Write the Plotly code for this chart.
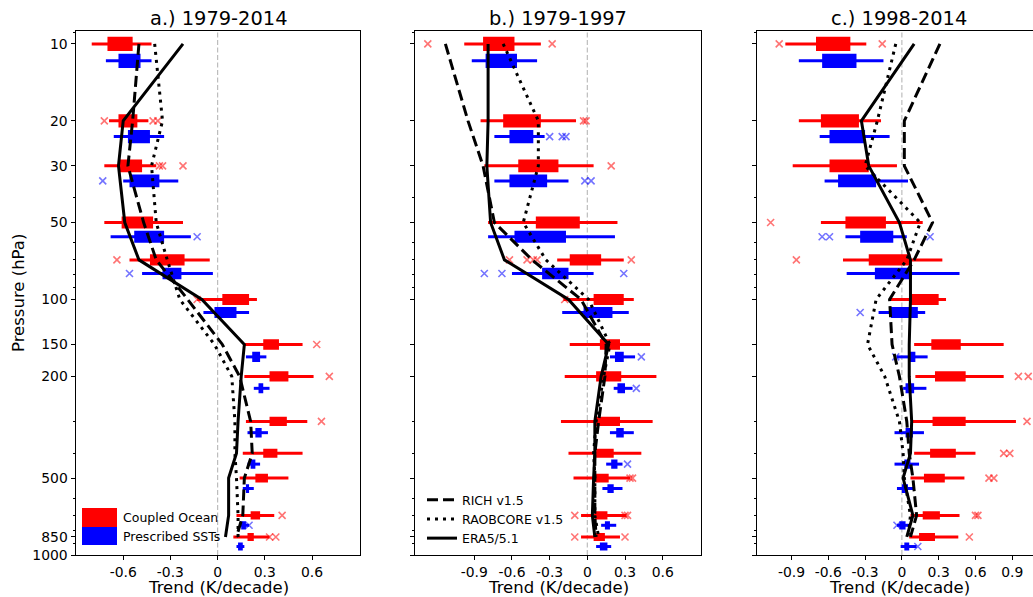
import numpy as np
import plotly.graph_objects as go

# ---------------- data ----------------
levels = [10, 20, 30, 50, 70, 100, 150, 200, 300, 400, 500, 700, 850]
panel_titles = ["a.) 1979-2014", "b.) 1979-1997", "c.) 1998-2014"]
series_names = ["Coupled Ocean", "Prescribed SSTs"]
obs_names = ["RICH v1.5", "RAOBCORE v1.5", "ERA5/5.1"]
y_tickvals = [10, 20, 30, 50, 100, 150, 200, 500, 850, 1000]
y_minor_ticks = [9, 40, 60, 70, 80, 90, 300, 400, 600, 700, 800, 900]

# Panel a: 1979-2014
a_red_lo = [-0.80, -0.69, -0.72, -0.72, -0.56, -0.13, 0.17, 0.17, 0.18, 0.16, 0.14, 0.12, 0.10]
a_red_q1 = [-0.70, -0.63, -0.63, -0.61, -0.43, 0.03, 0.29, 0.33, 0.33, 0.29, 0.24, 0.21, 0.19]
a_red_q3 = [-0.54, -0.51, -0.48, -0.41, -0.21, 0.20, 0.39, 0.45, 0.44, 0.38, 0.32, 0.27, 0.23]
a_red_hi = [-0.42, -0.44, -0.39, -0.22, -0.05, 0.25, 0.54, 0.61, 0.57, 0.54, 0.45, 0.36, 0.33]
a_red_out_p = [20, 20, 20, 30, 30, 30, 70, 100, 150, 200, 300, 700, 850, 850]
a_red_out_x = [-0.72, -0.41, -0.38, -0.37, -0.35, -0.22, -0.64, -0.13, 0.63, 0.71, 0.66, 0.41, 0.33, 0.37]
a_blue_lo = [-0.71, -0.66, -0.60, -0.68, -0.48, -0.09, 0.18, 0.23, 0.19, 0.19, 0.16, 0.14, 0.12]
a_blue_q1 = [-0.63, -0.57, -0.56, -0.53, -0.35, -0.02, 0.22, 0.26, 0.24, 0.21, 0.18, 0.15, 0.13]
a_blue_q3 = [-0.49, -0.43, -0.37, -0.34, -0.23, 0.12, 0.27, 0.29, 0.28, 0.24, 0.20, 0.18, 0.16]
a_blue_hi = [-0.42, -0.34, -0.25, -0.17, -0.03, 0.20, 0.31, 0.33, 0.32, 0.27, 0.23, 0.20, 0.17]
a_blue_out_p = [30, 50, 70, 700]
a_blue_out_x = [-0.73, -0.13, -0.56, 0.20]
a_rich = [-0.50, -0.54, -0.57, -0.47, -0.39, -0.19, 0.03, 0.14, 0.21, 0.22, 0.17, 0.16, 0.12]
a_raob = [-0.40, -0.35, -0.42, -0.39, -0.32, -0.24, -0.02, 0.09, 0.11, 0.11, 0.12, 0.13, 0.13]
a_era5 = [-0.22, -0.60, -0.63, -0.59, -0.50, -0.10, 0.17, 0.15, 0.13, 0.12, 0.07, 0.07, 0.05]

# Panel b: 1979-1997
b_red_lo = [-0.98, -0.85, -0.82, -0.79, -0.24, -0.19, -0.14, -0.18, -0.21, -0.15, -0.11, -0.05, -0.05]
b_red_q1 = [-0.83, -0.67, -0.55, -0.41, -0.14, 0.05, 0.10, 0.07, 0.06, 0.07, 0.06, 0.06, 0.05]
b_red_q3 = [-0.58, -0.37, -0.23, -0.06, 0.11, 0.29, 0.26, 0.27, 0.26, 0.21, 0.17, 0.16, 0.14]
b_red_hi = [-0.37, -0.09, 0.05, 0.24, 0.29, 0.37, 0.50, 0.55, 0.52, 0.43, 0.34, 0.31, 0.26]
b_red_out_p = [10, 10, 20, 20, 30, 70, 70, 70, 70, 70, 100, 500, 500, 700, 700, 700, 850, 850]
b_red_out_x = [-1.27, -0.28, -0.03, -0.01, 0.19, -0.62, -0.48, -0.43, -0.40, 0.35, -0.18, 0.34, 0.36, -0.10, 0.30, 0.32, -0.10, 0.30]
b_blue_lo = [-0.92, -0.74, -0.74, -0.79, -0.60, -0.20, 0.18, 0.21, 0.18, 0.15, 0.12, 0.11, 0.07]
b_blue_q1 = [-0.81, -0.62, -0.62, -0.58, -0.36, -0.03, 0.22, 0.24, 0.23, 0.19, 0.16, 0.14, 0.10]
b_blue_q3 = [-0.56, -0.43, -0.32, -0.17, -0.15, 0.20, 0.29, 0.30, 0.29, 0.24, 0.21, 0.18, 0.16]
b_blue_hi = [-0.40, -0.34, -0.15, 0.22, 0.05, 0.33, 0.38, 0.36, 0.37, 0.28, 0.28, 0.23, 0.19]
b_blue_out_p = [20, 20, 20, 30, 30, 70, 70, 70, 150, 200, 400]
b_blue_out_x = [-0.30, -0.20, -0.17, -0.02, 0.03, -0.82, -0.68, 0.29, 0.43, 0.39, 0.32]
b_rich = [-1.13, -0.95, -0.83, -0.74, -0.44, -0.05, 0.15, 0.14, 0.09, 0.06, 0.06, 0.06, 0.07]
b_raob = [-0.67, -0.39, -0.39, -0.51, -0.33, 0.01, 0.18, 0.13, 0.07, 0.05, 0.06, 0.06, 0.09]
b_era5 = [-0.79, -0.79, -0.80, -0.77, -0.66, -0.15, 0.17, 0.11, 0.06, 0.06, 0.05, 0.04, 0.06]

# Panel c: 1998-2014
c_red_lo = [-0.95, -0.84, -0.89, -0.66, -0.48, -0.09, 0.10, 0.11, 0.09, 0.10, 0.07, 0.07, 0.06]
c_red_q1 = [-0.70, -0.66, -0.59, -0.46, -0.27, 0.06, 0.24, 0.27, 0.25, 0.23, 0.18, 0.17, 0.14]
c_red_q3 = [-0.42, -0.35, -0.27, -0.13, 0.07, 0.30, 0.48, 0.52, 0.52, 0.44, 0.35, 0.31, 0.27]
c_red_hi = [-0.29, -0.17, -0.04, 0.17, 0.33, 0.36, 0.83, 0.83, 0.93, 0.60, 0.51, 0.47, 0.46]
c_red_out_p = [10, 10, 50, 70, 200, 200, 300, 400, 400, 500, 500, 700, 700, 850]
c_red_out_x = [-1.00, -0.16, -1.07, -0.86, 0.95, 1.03, 1.02, 0.83, 0.88, 0.71, 0.75, 0.60, 0.62, 0.55]
c_blue_lo = [-0.84, -0.67, -0.63, -0.46, -0.45, -0.19, -0.04, 0.01, -0.06, -0.06, -0.04, -0.04, -0.01]
c_blue_q1 = [-0.65, -0.59, -0.52, -0.34, -0.22, -0.09, 0.05, 0.03, 0.03, 0.02, 0.00, -0.02, 0.02]
c_blue_q3 = [-0.37, -0.30, -0.21, -0.07, 0.08, 0.13, 0.11, 0.10, 0.09, 0.07, 0.05, 0.03, 0.06]
c_blue_hi = [-0.15, -0.10, 0.05, 0.04, 0.47, 0.19, 0.21, 0.20, 0.18, 0.14, 0.10, 0.07, 0.12]
c_blue_out_p = [50, 50, 50, 100, 150, 700, 850]
c_blue_out_x = [-0.65, -0.59, 0.23, -0.34, -0.05, -0.04, 0.13]
c_rich = [0.31, 0.02, 0.02, 0.25, 0.10, -0.10, -0.08, -0.02, 0.04, 0.06, 0.09, 0.12, 0.07]
c_raob = [-0.05, -0.20, -0.30, 0.15, 0.04, -0.21, -0.28, -0.14, -0.02, 0.01, 0.02, 0.07, 0.05]
c_era5 = [0.10, -0.33, -0.27, -0.02, 0.07, 0.07, 0.06, 0.06, 0.08, 0.07, 0.01, 0.09, 0.04]

# ---------------- layout constants ----------------
W, H = 1033, 597
FONT = "DejaVu Sans"
RED, BLUE = "#ff0000", "#0000ff"
px_x = [(76, 360), (415, 701), (757, 1033)]
px_center = [218, 558, 899]
x_ranges = [[-0.90, 0.905], [-1.372, 0.905], [-1.181, 1.069]]
x_ticks = [[-0.6, -0.3, 0, 0.3, 0.6],
           [-0.9, -0.6, -0.3, 0, 0.3, 0.6],
           [-0.9, -0.6, -0.3, 0, 0.3, 0.6, 0.9]]
PLOT_TOP, PLOT_BOT = 31, 555


def fx(px):
    return px / W


def fy(py):
    return 1 - py / H


def level_offset(p):
    # vertical spacing (in decades of pressure) between the two model groups
    lp = np.log10(p)
    return 0.066 - 0.0148 * (lp - 1)


def centre(p, shifted):
    return np.log10(p) + (level_offset(p) if shifted else 0.0)


def whisker_xy(lo, hi, shifted):
    xs, ys = [], []
    for p, a, b in zip(levels, lo, hi):
        c = 10 ** centre(p, shifted)
        xs += [a, b, None]
        ys += [c, c, None]
    return xs, ys


def box_xy(q1, q3, shifted):
    xs, ys = [], []
    for p, a, b in zip(levels, q1, q3):
        c = centre(p, shifted)
        h = 0.42 * level_offset(p)
        y0, y1 = 10 ** (c - h), 10 ** (c + h)
        xs += [a, b, b, a, a, None]
        ys += [y0, y0, y1, y1, y0, None]
    return xs, ys


def out_y(ps, shifted):
    return [10 ** centre(p, shifted) for p in ps]


panels = [
    dict(red=(a_red_lo, a_red_q1, a_red_q3, a_red_hi, a_red_out_p, a_red_out_x),
         blue=(a_blue_lo, a_blue_q1, a_blue_q3, a_blue_hi, a_blue_out_p, a_blue_out_x),
         obs=(a_rich, a_raob, a_era5)),
    dict(red=(b_red_lo, b_red_q1, b_red_q3, b_red_hi, b_red_out_p, b_red_out_x),
         blue=(b_blue_lo, b_blue_q1, b_blue_q3, b_blue_hi, b_blue_out_p, b_blue_out_x),
         obs=(b_rich, b_raob, b_era5)),
    dict(red=(c_red_lo, c_red_q1, c_red_q3, c_red_hi, c_red_out_p, c_red_out_x),
         blue=(c_blue_lo, c_blue_q1, c_blue_q3, c_blue_hi, c_blue_out_p, c_blue_out_x),
         obs=(c_rich, c_raob, c_era5)),
]

fig = go.Figure()
obs_dash = ["11px,5px", "3px,5px", "solid"]

for i, pan in enumerate(panels):
    xa = "x" if i == 0 else f"x{i+1}"
    ya = "y" if i == 0 else f"y{i+1}"
    for key, col, shifted, name, acol in [("red", RED, False, series_names[0], "rgba(255,0,0,0.55)"),
                                          ("blue", BLUE, True, series_names[1], "rgba(0,0,255,0.55)")]:
        lo, q1, q3, hi, op, ox = pan[key]
        wx, wy = whisker_xy(lo, hi, shifted)
        fig.add_trace(go.Scatter(x=wx, y=wy, mode="lines", line=dict(color=col, width=3),
                                 xaxis=xa, yaxis=ya, showlegend=False, name=name, hoverinfo="skip"))
        bx, by = box_xy(q1, q3, shifted)
        fig.add_trace(go.Scatter(x=bx, y=by, mode="lines", fill="toself", fillcolor=col,
                                 line=dict(color=col, width=0), xaxis=xa, yaxis=ya,
                                 showlegend=False, name=name, hoverinfo="skip"))
        fig.add_trace(go.Scatter(x=ox, y=out_y(op, shifted), mode="markers",
                                 marker=dict(symbol="x-thin", size=7, color=acol,
                                             line=dict(color=acol, width=1.6)),
                                 xaxis=xa, yaxis=ya, showlegend=False, name=name))
    for j, vals in enumerate(pan["obs"]):
        fig.add_trace(go.Scatter(x=vals, y=levels, mode="lines",
                                 line=dict(color="black", width=3, dash=obs_dash[j]),
                                 xaxis=xa, yaxis=ya, name=obs_names[j],
                                 showlegend=(i == 1), legend="legend2"))
    # zero reference line
    fig.add_shape(type="line", xref=xa, yref=f"{ya} domain", x0=0, x1=0, y0=0, y1=1,
                  line=dict(color="#bdbdbd", width=1.2, dash="5px,2.5px"), layer="below")
    # panel title and x-axis title
    fig.add_annotation(text=panel_titles[i], xref="paper", yref="paper", x=fx(px_center[i]),
                       y=fy(19), xanchor="center", yanchor="middle", showarrow=False,
                       font=dict(family=FONT, size=19.4, color="black"))
    fig.add_annotation(text="Trend (K/decade)", xref="paper", yref="paper", x=fx(px_center[i]),
                       y=fy(587), xanchor="center", yanchor="middle", showarrow=False,
                       font=dict(family=FONT, size=16.5, color="black"))

# y-axis title
fig.add_annotation(text="Pressure (hPa)", xref="paper", yref="paper", x=fx(18), y=fy(293),
                   textangle=-90, xanchor="center", yanchor="middle", showarrow=False,
                   font=dict(family=FONT, size=16.5, color="black"))

# manual patch legend for panel a
fig.add_shape(type="rect", xref="paper", yref="paper", x0=fx(82), x1=fx(117), y0=fy(527), y1=fy(508),
              fillcolor=RED, line=dict(width=0))
fig.add_shape(type="rect", xref="paper", yref="paper", x0=fx(82), x1=fx(117), y0=fy(545), y1=fy(527),
              fillcolor=BLUE, line=dict(width=0))
for txt, py in [(series_names[0], 517.5), (series_names[1], 536)]:
    fig.add_annotation(text=txt, xref="paper", yref="paper", x=fx(121), y=fy(py), xanchor="left",
                       yanchor="middle", showarrow=False, font=dict(family=FONT, size=12.5, color="black"))

layout = dict(width=W, height=H, autosize=False, margin=dict(l=0, r=0, t=0, b=0, pad=0),
              paper_bgcolor="white", plot_bgcolor="white",
              font=dict(family=FONT, size=13.9, color="black"),
              showlegend=True,
              legend2=dict(x=fx(422), y=fy(485), xanchor="left", yanchor="top",
                           bgcolor="rgba(0,0,0,0)", borderwidth=0, tracegroupgap=0,
                           font=dict(family=FONT, size=12.5, color="black")))

for i in range(3):
    xk = "xaxis" if i == 0 else f"xaxis{i+1}"
    yk = "yaxis" if i == 0 else f"yaxis{i+1}"
    ya = "y" if i == 0 else f"y{i+1}"
    xa = "x" if i == 0 else f"x{i+1}"
    layout[xk] = dict(domain=[fx(px_x[i][0]), fx(px_x[i][1])], anchor=ya, range=x_ranges[i],
                      tickmode="array", tickvals=x_ticks[i],
                      ticktext=[("0" if v == 0 else f"{v:.1f}") for v in x_ticks[i]],
                      ticks="outside", ticklen=4, tickwidth=1, tickcolor="black",
                      showline=True, linecolor="black", linewidth=1, mirror=True,
                      showgrid=False, zeroline=False, automargin=False,
                      tickfont=dict(family=FONT, size=13.9, color="black"))
    layout[yk] = dict(domain=[fy(PLOT_BOT), fy(PLOT_TOP)], anchor=xa, type="log",
                      range=[np.log10(1000), np.log10(8.9)],
                      tickmode="array", tickvals=y_tickvals,
                      ticktext=[str(v) for v in y_tickvals], showticklabels=(i == 0),
                      ticks="outside", ticklen=4.5, tickwidth=1, tickcolor="black",
                      minor=dict(tickmode="array", tickvals=y_minor_ticks, ticks="outside",
                                 ticklen=2.5, tickwidth=0.8, tickcolor="black", showgrid=False),
                      showline=True, linecolor="black", linewidth=1, mirror=(i != 2),
                      showgrid=False, zeroline=False, automargin=False,
                      tickfont=dict(family=FONT, size=13.9, color="black"))

fig.update_layout(**layout)
page_fix = ("var s=document.documentElement.style;s.margin='0';s.padding='0';s.overflow='hidden';"
            "s.height='597px';var b=document.body.style;b.margin='0';b.padding='0';"
            "b.overflow='hidden';b.height='597px';b.width='1033px';")
fig.write_html("out.html", config={"displayModeBar": False, "responsive": False},
               post_script=page_fix)
